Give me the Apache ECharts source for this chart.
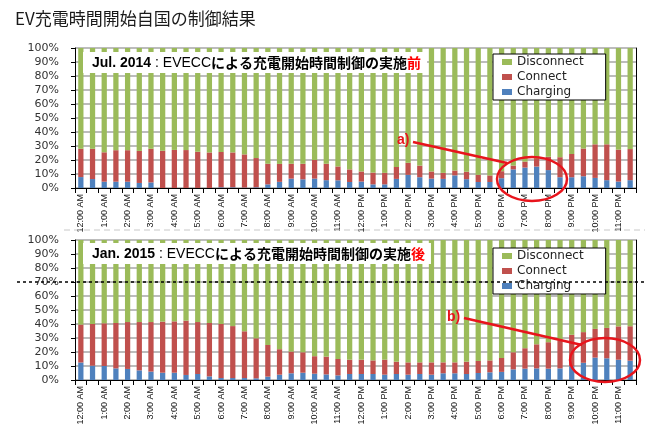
<!DOCTYPE html>
<html>
<head>
<meta charset="utf-8">
<script src="https://cdn.jsdelivr.net/npm/echarts/dist/echarts.min.js"></script>
<style>
  html, body { margin: 0; padding: 0; background: #fff; }
  #chart { width: 650px; height: 431px; }
</style>
</head>
<body>
<div id="chart"></div>
<script>
// hourly tick labels, each hour has two half-hour bars
const hourLabels = ['12:00 AM', '1:00 AM', '2:00 AM', '3:00 AM', '4:00 AM', '5:00 AM',
  '6:00 AM', '7:00 AM', '8:00 AM', '9:00 AM', '10:00 AM', '11:00 AM',
  '12:00 PM', '1:00 PM', '2:00 PM', '3:00 PM', '4:00 PM', '5:00 PM',
  '6:00 PM', '7:00 PM', '8:00 PM', '9:00 PM', '10:00 PM', '11:00 PM']
const categories = hourLabels.flatMap(h => [h, h.replace(':00', ':30')])

const yTicks = [0, 10, 20, 30, 40, 50, 60, 70, 80, 90, 100]

// Jul. 2014 (before control), % of EVs
const charging2014 = [7.8, 6.4, 4.5, 4.5, 4.5, 3.6, 4, 0, 0, 0, 0, 0,
  0.5, 0.5, 0.3, 0.5, 2.6, 4.4, 6.7, 6.2, 6.7, 5.6, 5.5, 4.3,
  4.6, 2.6, 2.6, 6.5, 9.4, 7.7, 6.7, 6.5, 9, 6.3, 4.3, 4.3,
  7, 13.3, 14.6, 15.3, 12.8, 7.7, 7.7, 8.4, 7.2, 5.6, 4.6, 5.6]
const connect2014 = [20.2, 21.6, 21, 22.5, 22.5, 22.9, 24, 26.6, 27.2, 27.1, 25.9, 25.4,
  25.2, 24.9, 23.7, 20.9, 14.7, 12.8, 10.6, 11.1, 13.3, 11.7, 9.9, 9,
  7.2, 8.4, 8.2, 8.5, 8.6, 8.3, 5.1, 4.3, 3.5, 5.3, 5.1, 4.7,
  5, 2.7, 4.2, 5.4, 9.5, 14.3, 16.6, 19.8, 24, 25.6, 22.8, 22.2]
const disconnect2014 = [72, 72, 74.5, 73, 73, 73.5, 72, 73.4, 72.8, 72.9, 74.1, 74.6,
  74.3, 74.6, 76, 78.6, 82.7, 82.8, 82.7, 82.7, 80, 82.7, 84.6, 86.7,
  88.2, 89, 89.2, 85, 82, 84, 88.2, 89.2, 87.5, 88.4, 90.6, 91,
  88, 84, 81.2, 79.3, 77.7, 78, 75.7, 71.8, 68.8, 68.8, 72.6, 72.2]

// Jan. 2015 (after control)
const charging2015 = [12.5, 10.2, 10, 8.3, 7.9, 6.9, 6, 5.2, 5.2, 3.6, 4.3, 2.6,
  1.4, 1.4, 1.4, 1.2, 2.4, 3.8, 4.8, 5.2, 4.5, 4, 3.3, 4.3,
  4.3, 4.3, 3.8, 4.3, 3.8, 4.3, 3.8, 4.8, 4.8, 4.3, 5, 5.5,
  5.8, 7.6, 8.1, 8.3, 8.1, 8.3, 9.8, 12.3, 16, 15.5, 14.5, 13.8]
const connect2015 = [27.1, 29.8, 30.5, 32.4, 33.5, 34.5, 35.4, 36.5, 36.7, 38.8, 37.1, 38.1,
  38.6, 37.1, 33.4, 28.6, 22.6, 18.2, 15.5, 14.6, 12.5, 12.7, 11.7, 10.2,
  10.2, 9.7, 10.7, 8.8, 8.8, 8.3, 8.8, 7.8, 7.8, 8.8, 8.6, 8.5,
  9.9, 12.2, 14.6, 17.2, 18.9, 19.7, 22.5, 21.9, 20.5, 21.7, 23.8, 24.6]
const disconnect2015 = [60.4, 60, 59.5, 59.3, 58.6, 58.6, 58.6, 58.3, 58.1, 57.6, 58.6, 59.3,
  60, 61.5, 65.2, 70.2, 75, 78, 79.7, 80.2, 83, 83.3, 85, 85.5,
  85.5, 86, 85.5, 86.9, 87.4, 87.4, 87.4, 87.4, 87.4, 86.9, 86.4, 86,
  84.3, 80.2, 77.3, 74.5, 73, 72, 67.7, 65.8, 63.5, 62.8, 61.7, 61.6]

const GREEN = '#9bbb59'
const RED = '#c0504d'
const BLUE = '#4f81bd'

const gridLeft = 75
const gridRight = 14
const topGrid = { top: 48, height: 140 }
const bottomGrid = { top: 240, height: 140 }

const chart = echarts.init(document.getElementById('chart'))

function xAxis(gridIndex) {
  return {
    type: 'category',
    gridIndex,
    data: categories,
    axisLine: { lineStyle: { color: '#000', width: 1 } },
    axisTick: { show: true, interval: 0, length: 5, lineStyle: { color: '#000' } },
    axisLabel: {
      interval: 1,
      rotate: 90,
      fontSize: 9,
      fontFamily: 'Liberation Sans',
      color: '#111',
      margin: 6
    }
  }
}

function yAxes(gridIndex) {
  return [
    {
      type: 'value',
      gridIndex,
      min: yTicks[0],
      max: yTicks[yTicks.length - 1],
      interval: yTicks[1] - yTicks[0],
      axisLine: { show: true, lineStyle: { color: '#000' } },
      axisTick: { show: true, length: 4, lineStyle: { color: '#000' } },
      axisLabel: {
        formatter: '{value}%',
        fontFamily: 'DejaVu Sans',
        fontSize: 11,
        color: '#333',
        margin: 16
      },
      splitLine: { lineStyle: { color: '#a6a6a6', width: 1.5 } }
    },
    {
      type: 'value',
      gridIndex,
      position: 'right',
      min: 0,
      max: 100,
      interval: 10,
      axisLine: { show: true, lineStyle: { color: '#000' } },
      axisTick: { show: false },
      axisLabel: { show: false },
      splitLine: { show: false }
    }
  ]
}

function bars(name, data, idx, color) {
  return {
    name,
    type: 'bar',
    stack: 'panel' + idx,
    xAxisIndex: idx,
    yAxisIndex: idx * 2,
    barWidth: '45%',
    itemStyle: { color },
    data
  }
}

function panelLegend(top) {
  return {
    orient: 'vertical',
    left: 493,
    top,
    data: ['Disconnect', 'Connect', 'Charging'],
    icon: 'rect',
    itemWidth: 10,
    itemHeight: 6,
    itemGap: 3,
    padding: [2, 22, 2, 9],
    borderColor: '#000',
    borderWidth: 1,
    borderRadius: 0,
    backgroundColor: '#fff',
    textStyle: { fontFamily: 'DejaVu Sans', fontSize: 12, color: '#222' }
  }
}

function panelTitle(dateText, suffix, top) {
  return {
    text: '{b|' + dateText + '} : EVECC{j|による充電開始時間制御の実施}{r|' + suffix + '}',
    left: 83,
    top,
    backgroundColor: '#fff',
    padding: [4, 6, 3, 9],
    textStyle: {
      fontFamily: 'Liberation Sans',
      fontSize: 14,
      fontWeight: 'normal',
      color: '#000',
      rich: {
        b: { fontFamily: 'Liberation Sans', fontSize: 14, fontWeight: 'bold', color: '#000' },
        j: { fontFamily: 'Noto Sans CJK JP', fontSize: 14, fontWeight: 'bold', color: '#000' },
        r: { fontFamily: 'Noto Sans CJK JP', fontSize: 14, fontWeight: 'bold', color: '#ff0000' }
      }
    }
  }
}

const line70 = bottomGrid.top + bottomGrid.height * 0.3

chart.setOption({
  animation: false,
  backgroundColor: '#fff',
  title: [
    {
      text: 'EV充電時間開始自国の制御結果',
      left: 10,
      top: 5,
      textStyle: { fontFamily: 'Noto Sans CJK JP', fontSize: 17, fontWeight: 'normal', color: '#1a1a1a' }
    },
    panelTitle('Jul. 2014', '前', 52),
    panelTitle('Jan. 2015', '後', 243)
  ],
  legend: [panelLegend(54), panelLegend(248)],
  grid: [
    { left: gridLeft, right: gridRight, top: topGrid.top, height: topGrid.height },
    { left: gridLeft, right: gridRight, top: bottomGrid.top, height: bottomGrid.height }
  ],
  xAxis: [xAxis(0), xAxis(1)],
  yAxis: [...yAxes(0), ...yAxes(1)],
  series: [
    bars('Charging', charging2014, 0, BLUE),
    bars('Connect', connect2014, 0, RED),
    bars('Disconnect', disconnect2014, 0, GREEN),
    bars('Charging', charging2015, 1, BLUE),
    bars('Connect', connect2015, 1, RED),
    bars('Disconnect', disconnect2015, 1, GREEN)
  ],
  graphic: [
    // faint separator above the second panel
    {
      type: 'line', z: 1,
      shape: { x1: 64, y1: 230, x2: 645, y2: 230 },
      style: { stroke: '#c8c8c8', lineWidth: 1, lineDash: [6, 4] }
    },
    // 70% reference line
    {
      type: 'line', z: 100,
      shape: { x1: 17, y1: line70, x2: 645, y2: line70 },
      style: { stroke: '#000', lineWidth: 1.5, lineDash: [3, 3] }
    },
    // a) annotation
    {
      type: 'ellipse', z: 100,
      shape: { cx: 532, cy: 179, rx: 35, ry: 22 },
      style: { fill: 'none', stroke: '#e8141c', lineWidth: 2.5 }
    },
    {
      type: 'line', z: 100,
      shape: { x1: 413, y1: 142, x2: 507, y2: 163 },
      style: { stroke: '#e8141c', lineWidth: 2.5 }
    },
    {
      type: 'text', z: 100, left: 397, top: 133,
      style: { text: 'a)', fill: '#e8141c', font: 'bold 14px "Liberation Sans"' }
    },
    // b) annotation
    {
      type: 'ellipse', z: 100,
      shape: { cx: 605, cy: 360, rx: 35, ry: 22 },
      style: { fill: 'none', stroke: '#e8141c', lineWidth: 2.5 }
    },
    {
      type: 'line', z: 100,
      shape: { x1: 464, y1: 318, x2: 582, y2: 345 },
      style: { stroke: '#e8141c', lineWidth: 2.5 }
    },
    {
      type: 'text', z: 100, left: 447, top: 310,
      style: { text: 'b)', fill: '#e8141c', font: 'bold 14px "Liberation Sans"' }
    }
  ]
})
</script>
</body>
</html>
